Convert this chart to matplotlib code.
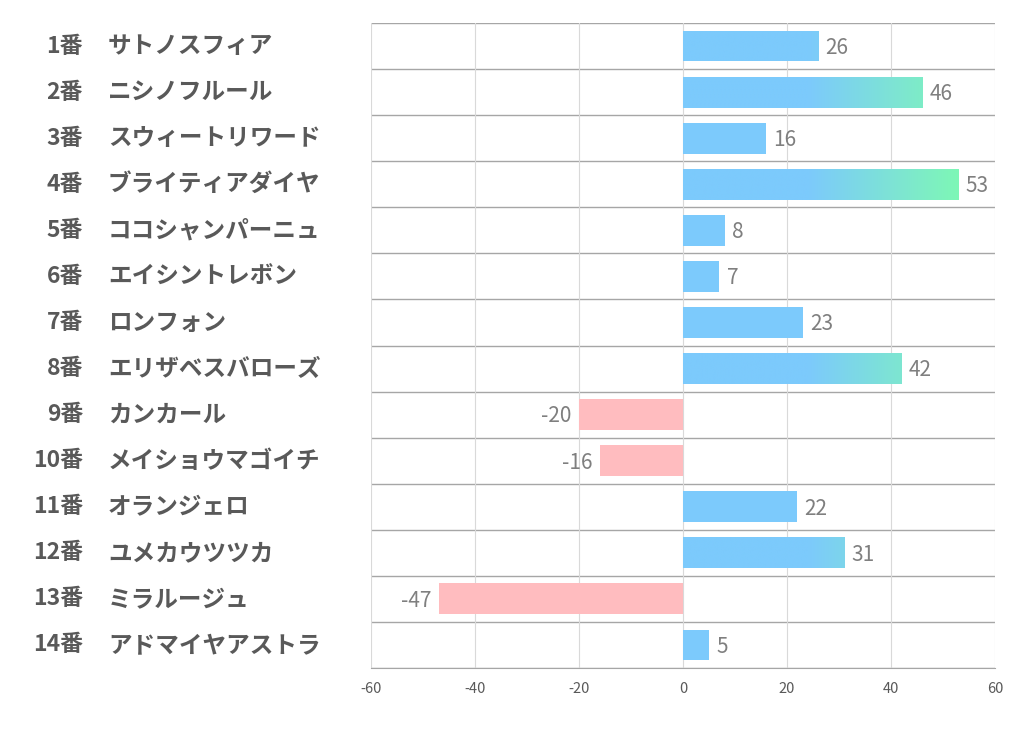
import numpy as np
import matplotlib.pyplot as plt
from matplotlib.colors import LinearSegmentedColormap
from matplotlib.transforms import blended_transform_factory

plt.rcParams['font.family'] = ['Noto Sans CJK JP', 'DejaVu Sans']
plt.rcParams['axes.unicode_minus'] = False

# Data
numbers = ["1番", "2番", "3番", "4番", "5番", "6番", "7番",
           "8番", "9番", "10番", "11番", "12番", "13番", "14番"]
names = ["サトノスフィア", "ニシノフルール", "スウィートリワード", "ブライティアダイヤ",
         "ココシャンパーニュ", "エイシントレボン", "ロンフォン", "エリザベスバローズ",
         "カンカール", "メイショウマゴイチ", "オランジェロ", "ユメカウツツカ",
         "ミラルージュ", "アドマイヤアストラ"]
values = [26, 46, 16, 53, 8, 7, 23, 42, -20, -16, 22, 31, -47, 5]

blue = "#7ccafc"
green = "#7ef7b6"
pink = "#ffbcbf"
grad_start, grad_end = 24, 53

fig = plt.figure(figsize=(10.22, 7.30), dpi=100)
ax = fig.add_axes([371 / 1022, 1 - 668 / 730, 624 / 1022, 645 / 730])

cmap = LinearSegmentedColormap.from_list("bg", [blue, green])
bar_h = 0.67

for i, v in enumerate(values):
    if v < 0:
        ax.barh(i, v, height=bar_h, color=pink, zorder=3)
        ax.text(v - 1.4, i + 0.04, str(v), ha="right", va="center",
                fontsize=15, color="#7f7f7f", zorder=4)
    else:
        bar = ax.barh(i, v, height=bar_h, color=blue, zorder=3)[0]
        if v > grad_start:
            # blue to green fade along the bar
            xs = np.linspace(0, v, 300)
            t = np.clip((xs - grad_start) / (grad_end - grad_start), 0, 1)
            im = ax.imshow(t[np.newaxis, :], cmap=cmap, vmin=0, vmax=1,
                           extent=(0, v, i - bar_h / 2, i + bar_h / 2),
                           aspect="auto", zorder=3.5, interpolation="bilinear")
            im.set_clip_path(bar)
        ax.text(v + 1.4, i + 0.04, str(v), ha="left", va="center",
                fontsize=15, color="#7f7f7f", zorder=4)

ax.set_xlim(-60, 60)
ax.set_ylim(len(values) - 0.5, -0.5)
ax.set_xticks(range(-60, 61, 20))
ax.tick_params(axis="x", length=0, labelsize=10.5, labelcolor="#595959", pad=10)
ax.set_yticks([])
ax.grid(axis="x", color="#d9d9d9", linewidth=0.8, zorder=0)
for y in np.arange(-0.5, len(values), 1):
    ax.axhline(y, color="#a6a6a6", linewidth=1.0, zorder=1)
for side in ["top", "right", "left"]:
    ax.spines[side].set_visible(False)
ax.spines["bottom"].set_color("#a6a6a6")

# Row labels
trans = blended_transform_factory(fig.transFigure, ax.transData)
for i, (n, name) in enumerate(zip(numbers, names)):
    ax.text(83 / 1022, i, n, transform=trans, ha="right", va="center",
            fontsize=16.5, fontweight="bold", color="#595959", clip_on=False)
    ax.text(108 / 1022, i, name, transform=trans, ha="left", va="center",
            fontsize=17, fontweight="bold", color="#595959", clip_on=False)

fig.savefig("out.png", dpi=100)
